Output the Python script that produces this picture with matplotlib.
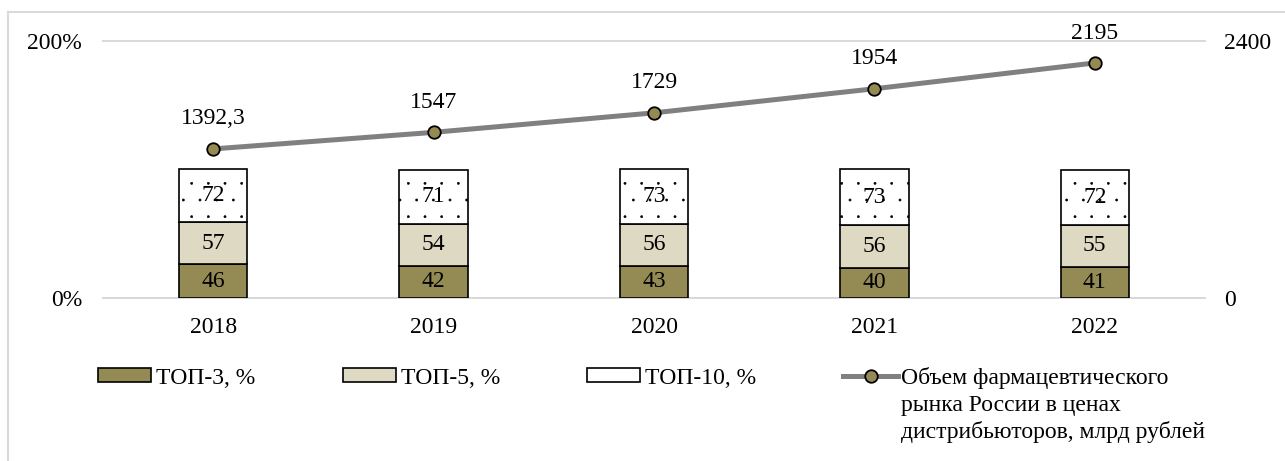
import matplotlib
matplotlib.use("Agg")
import matplotlib.pyplot as plt
import matplotlib.hatch as mhatch
from matplotlib.lines import Line2D
from matplotlib.patches import Patch
import numpy as np

plt.rcParams['font.family'] = ['Liberation Serif', 'DejaVu Serif']
plt.rcParams['hatch.linewidth'] = 0.4
# smaller dots for the '.' hatch, like the sparse dotted fill of the original
mhatch.SmallFilledCircles.size = 0.065

years = ["2018", "2019", "2020", "2021", "2022"]
top3 = [46, 42, 43, 40, 41]
top5 = [57, 54, 56, 56, 55]
top10 = [72, 71, 73, 73, 72]
market = [1392.3, 1547, 1729, 1954, 2195]
market_labels = ["1392,3", "1547", "1729", "1954", "2195"]

series_names = ["ТОП-3, %", "ТОП-5, %", "ТОП-10, %"]
line_name_lines = ["Объем фармацевтического", "рынка России в ценах",
                   "дистрибьюторов, млрд рублей"]

C_TOP3 = "#948A54"
C_TOP5 = "#DDD9C3"
C_LINE = "#808080"
C_GRID = "#D9D9D9"
FS = 17
W, H = 1285, 461

fig = plt.figure(figsize=(W/100, H/100), dpi=100)
ax = fig.add_axes([103/W, 1-298/H, (1205-103)/W, (298-41)/H])
ax2 = ax.twinx()

x = np.arange(len(years))
vals = np.array([top3, top5, top10], dtype=float)
totals = vals.sum(axis=0)
shares = vals / totals * 100

fills = [C_TOP3, C_TOP5, "white"]
hatches = [None, None, "."]
bottom = np.zeros(len(years))
for i in range(3):
    bars = ax.bar(x, shares[i], 0.31, bottom=bottom, color=fills[i], edgecolor="black",
                  linewidth=1.2, hatch=hatches[i], zorder=3)
    for j, b in enumerate(bars):
        ax.text(b.get_x() + b.get_width()/2, bottom[j] + shares[i][j]/2, str(int(vals[i][j])),
                ha="center", va="center", fontsize=FS, zorder=4)
    bottom += shares[i]

ax.set_xlim(-0.5, len(years) - 0.5)
ax.set_ylim(0, 200)
ax.set_yticks([0, 200])
ax.set_yticklabels(["0%", "200%"])
ax.set_xticks(x)
ax.set_xticklabels(years)
ax.tick_params(axis="y", length=0, pad=15, labelsize=FS)
ax.tick_params(axis="x", length=0, pad=14, labelsize=FS)
ax.yaxis.grid(True, color=C_GRID, linewidth=1.4, zorder=0)
for gl in ax.get_ygridlines():
    gl.set_clip_on(False)
for s in ["top", "left", "right"]:
    ax.spines[s].set_visible(False)
ax.spines["bottom"].set_color(C_GRID)
ax.spines["bottom"].set_linewidth(1.4)
ax.set_axisbelow(True)

ax2.plot(x, market, color=C_LINE, linewidth=3.6, marker="o", markersize=9,
         markerfacecolor=C_TOP3, markeredgecolor="black", markeredgewidth=1.3, zorder=5)
for xi, v, lab in zip(x, market, market_labels):
    ax2.annotate(lab, (xi, v), xytext=(0, 14), textcoords="offset points",
                 ha="center", va="bottom", fontsize=FS)
ax2.set_ylim(0, 2400)
ax2.set_yticks([0, 2400])
ax2.set_yticklabels(["0", "2400"])
ax2.tick_params(axis="y", length=0, pad=14, labelsize=FS)
for s in ["top", "left", "right", "bottom"]:
    ax2.spines[s].set_visible(False)

# legend
handles = [Patch(facecolor=fills[i], edgecolor="black", linewidth=1.2, hatch=hatches[i])
           for i in range(3)]
leg_x = [98, 343, 587]
ly = 1 - 378/H
for h, name, lx in zip(handles, series_names, leg_x):
    fig.legend([h], [name], loc="center left", bbox_to_anchor=(lx/W, ly),
               frameon=False, fontsize=FS, borderpad=0, borderaxespad=0,
               handlelength=2.25, handleheight=0.51, handletextpad=0.21)
line_h = Line2D([], [], color=C_LINE, linewidth=3.6, marker="o", markersize=9,
                markerfacecolor=C_TOP3, markeredgecolor="black", markeredgewidth=1.3)
leg4 = fig.legend([line_h], [line_name_lines[0]], loc="center left",
                  bbox_to_anchor=(843/W, ly), frameon=False, fontsize=FS, borderpad=0,
                  borderaxespad=0, handlelength=2.33, handletextpad=0.13)
fig.canvas.draw()
tb = leg4.get_texts()[0].get_window_extent()
for k, line in enumerate(line_name_lines[1:]):
    fig.text(tb.x0/W, 1 - (378 + 27*(k+1))/H, line, ha="left", va="center", fontsize=FS)

# outer border (left & top)
fig.add_artist(Line2D([8/W, 8/W], [0, 1-12/H], transform=fig.transFigure,
                      color=C_GRID, linewidth=1.5))
fig.add_artist(Line2D([8/W, 1], [1-12/H, 1-12/H], transform=fig.transFigure,
                      color=C_GRID, linewidth=1.5))

fig.savefig("out.png", dpi=100)
